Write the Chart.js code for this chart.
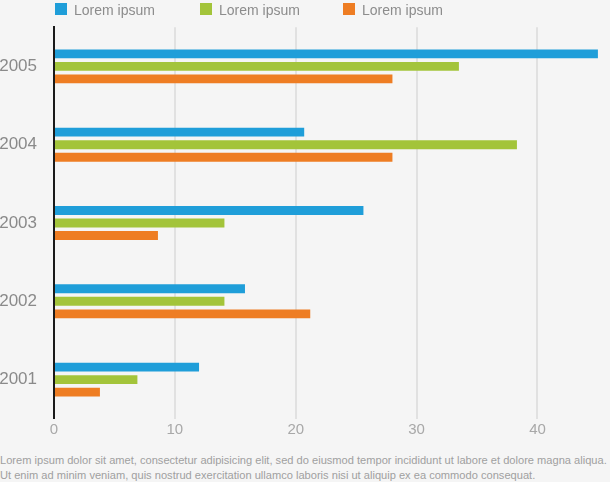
<!DOCTYPE html>
<html>
<head>
<meta charset="utf-8">
<script src="https://cdn.jsdelivr.net/npm/chart.js@4/dist/chart.umd.min.js"></script>
<style>
  html, body { margin:0; padding:0; background:#f5f5f5; }
  body { width:610px; height:482px; position:relative; overflow:hidden; font-family:"Liberation Sans", Arial, sans-serif; }
  #wrap { position:absolute; left:0; top:0; width:610px; height:446px; }
  #legend { position:absolute; left:0; top:0; width:610px; height:20px; }
  .li { position:absolute; top:2px; height:16px; font-size:14px; color:#8c8c8c; line-height:16px; white-space:nowrap; }
  .li span.box { display:inline-block; width:12px; height:12px; vertical-align:top; margin-top:1px; margin-right:7px; }
  #footer { position:absolute; left:0; top:453px; width:620px; font-size:11.1px; line-height:15px; color:#a0a0a0; white-space:nowrap; }
</style>
</head>
<body>
<div id="wrap"><canvas id="c" width="610" height="446"></canvas></div>
<div id="legend"></div>
<div id="footer">Lorem ipsum dolor sit amet, consectetur adipisicing elit, sed do eiusmod tempor incididunt ut labore et dolore magna aliqua.<br>Ut enim ad minim veniam, quis nostrud exercitation ullamco laboris nisi ut aliquip ex ea commodo consequat.</div>
<script>
const categories = ['2005', '2004', '2003', '2002', '2001'];
const seriesNames = ['Lorem ipsum', 'Lorem ipsum', 'Lorem ipsum'];
const blueValues   = [45.0, 20.7, 25.6, 15.8, 12.0];
const greenValues  = [33.5, 38.3, 14.1, 14.1, 6.9];
const orangeValues = [28.0, 28.0, 8.6, 21.2, 3.8];
const xTicks = [0, 10, 20, 30, 40];
const colors = ['#1f9ed9', '#a3c43a', '#ee7d23'];
const legendLefts = [55, 200, 343];

const seriesValues = [blueValues, greenValues, orangeValues];

const legend = document.getElementById('legend');
seriesNames.forEach((name, i) => {
  const d = document.createElement('div');
  d.className = 'li';
  d.style.left = legendLefts[i] + 'px';
  d.innerHTML = '<span class="box" style="background:' + colors[i] + '"></span>' + name;
  legend.appendChild(d);
});

new Chart(document.getElementById('c'), {
  type: 'bar',
  data: {
    labels: categories,
    datasets: seriesValues.map((vals, i) => ({
      label: seriesNames[i],
      data: vals,
      backgroundColor: colors[i],
      borderWidth: 0,
      categoryPercentage: 0.48,
      barPercentage: 0.71
    }))
  },
  options: {
    indexAxis: 'y',
    responsive: false,
    animation: false,
    devicePixelRatio: 1,
    layout: { padding: { top: 26, right: 0, bottom: 2, left: 0 } },
    plugins: { legend: { display: false }, tooltip: { enabled: false } },
    scales: {
      x: {
        type: 'linear',
        min: 0,
        max: 46,
        afterBuildTicks: (scale) => {
          scale.ticks = xTicks.map(v => ({ value: v }));
        },
        grid: { color: '#e1e1e1', lineWidth: 2, drawTicks: false },
        border: { display: false },
        ticks: {
          color: '#a8a8a8',
          font: { family: '"Liberation Sans", Arial, sans-serif', size: 15 },
          padding: 2
        }
      },
      y: {
        grid: { display: false, drawTicks: false },
        border: { display: true, color: '#1a1a1a', width: 2 },
        afterFit: (scale) => { scale.width = 54; },
        ticks: {
          color: '#8a8a8a',
          font: { family: '"Liberation Sans", Arial, sans-serif', size: 17 },
          padding: 17
        }
      }
    }
  }
});
</script>
</body>
</html>
